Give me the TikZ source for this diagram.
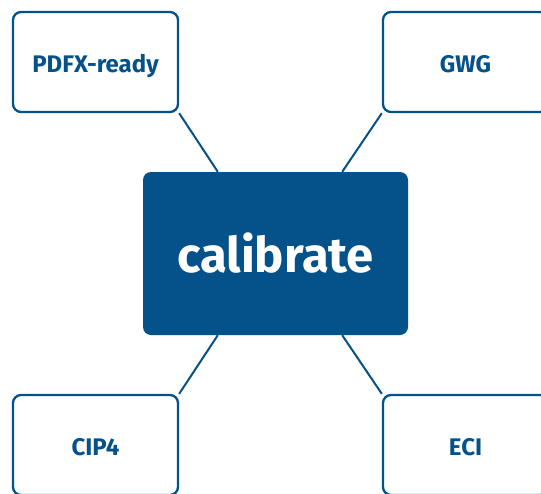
\documentclass[tikz,border=0pt]{standalone}
\usepackage{fontspec}
\setmainfont{Fira Sans}
\usepackage{tikz}
\usetikzlibrary{shapes}
\usetikzlibrary{positioning}
\definecolor{calblue}{RGB}{5,81,137}
\pgfdeclarelayer{background}
\pgfsetlayers{background,main}
\newcommand{\partnername}[1]{\raisebox{-10pt}[0pt][0pt]{#1}}

\begin{document}
\begin{tikzpicture}[x=1pt,y=-1pt]
\tikzstyle{partner}=[rectangle,rounded corners=8pt,draw=calblue,fill=white,line width=2.3pt,
inner sep=0pt,minimum width=165pt,minimum height=100pt,
text=calblue,font=\bfseries\fontsize{24}{28}\selectfont]
\tikzstyle{hub}=[rectangle,rounded corners=8pt,fill=calblue,
inner sep=0pt,minimum width=265pt,minimum height=163pt,
text=white,font=\bfseries\fontsize{49}{58}\selectfont]
\tikzstyle{link}=[draw=calblue,line width=2pt]
\useasboundingbox (0,0) rectangle (541,493);
\node[hub] (calibrate) at (275.5,253.5) {calibrate};
\node[partner] (pdfx) at (95.5,62) {\partnername{PDFX-ready}};
\node[partner] (gwg) at (465.5,62) {\partnername{GWG}};
\node[partner] (cip) at (95.5,445) {\partnername{CIP4}};
\node[partner] (eci) at (465.5,445) {\partnername{ECI}};
\begin{pgfonlayer}{background}
\draw[link] (pdfx.south east) -- ([xshift=75pt]calibrate.north west);
\draw[link] (gwg.south west) -- ([xshift=-66pt]calibrate.north east);
\draw[link] (cip.north east) -- ([xshift=75pt]calibrate.south west);
\draw[link] (eci.north west) -- ([xshift=-66pt]calibrate.south east);
\end{pgfonlayer}
\end{tikzpicture}
\end{document}
